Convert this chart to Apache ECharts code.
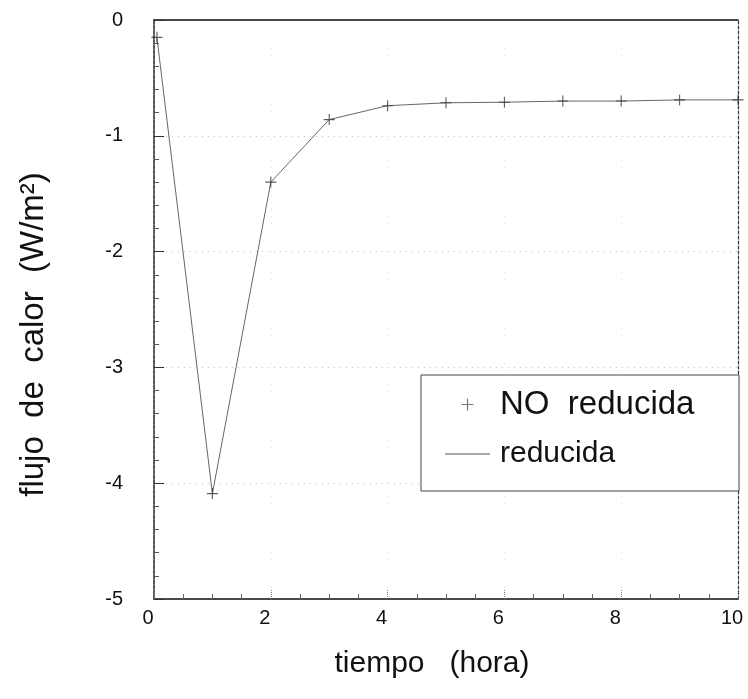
<!DOCTYPE html>
<html>
<head>
<meta charset="utf-8">
<script src="https://cdn.jsdelivr.net/npm/echarts@6/dist/echarts.min.js"></script>
<style>
  html, body { margin: 0; padding: 0; background: #fff; }
  #chart { width: 748px; height: 699px; }
</style>
</head>
<body>
<div id="chart"></div>
<script>
// Heat flux over time, full vs. reduced model
const horas = [0.05, 1, 2, 3, 4, 5, 6, 7, 8, 9, 10];
const noReducida = [-0.15, -4.09, -1.40, -0.86, -0.74, -0.715, -0.71, -0.70, -0.70, -0.69, -0.69];
const reducida = [-0.15, -4.09, -1.40, -0.86, -0.74, -0.715, -0.71, -0.70, -0.70, -0.69, -0.69];
const xTicks = [0, 2, 4, 6, 8, 10];
const yTicks = [0, -1, -2, -3, -4, -5];

const FONT = '"Liberation Sans", Arial, Helvetica, sans-serif';
const plusPath = 'path://M4.5,0h1v4.5h4.5v1h-4.5v4.5h-1v-4.5h-4.5v-1h4.5z';
const linePath = 'path://M0,0h45v1h-45z';

const chart = echarts.init(document.getElementById('chart'), null, { renderer: 'canvas' });

chart.setOption({
  backgroundColor: '#fff',
  animation: false,
  textStyle: { fontFamily: FONT, color: '#111' },
  grid: { left: 154, right: 10, top: 20, bottom: 100 },
  legend: {
    orient: 'vertical',
    left: 421,
    top: 375,
    padding: [13, 27, 22, 24],
    itemGap: 18,
    itemWidth: 45,
    itemHeight: 12,
    backgroundColor: '#fff',
    borderColor: '#444',
    borderWidth: 1,
    borderRadius: 0,
    data: [
      { name: 'NO reducida', icon: plusPath, itemStyle: { color: '#555' } },
      { name: 'reducida', icon: linePath, itemStyle: { color: '#555' } }
    ],
    formatter: function (name) {
      return name === 'NO reducida' ? '{a|NO  reducida}' : '{b|reducida}';
    },
    textStyle: {
      color: '#111',
      fontFamily: FONT,
      rich: {
        a: { fontSize: 33, lineHeight: 36, width: 212, padding: [0, 0, 0, 5], fontFamily: FONT, color: '#111' },
        b: { fontSize: 30, lineHeight: 36, width: 212, padding: [0, 0, 0, 5], fontFamily: FONT, color: '#111' }
      }
    }
  },
  xAxis: [
    {
      type: 'value',
      min: 0,
      max: 10,
      interval: 2,
      name: 'tiempo   (hora)',
      nameLocation: 'middle',
      nameGap: 50,
      nameTextStyle: { fontSize: 30, fontFamily: FONT, color: '#111', padding: [0, 28, 0, 0] },
      axisLine: { show: true, onZero: false, lineStyle: { color: '#111', width: 1.5 } },
      axisTick: { show: true, inside: true, length: 10, lineStyle: { color: '#777', type: 'dotted' } },
      minorTick: { show: true, splitNumber: 4, length: 5, lineStyle: { color: '#666' } },
      axisLabel: {
        fontSize: 20, color: '#111', margin: 9, fontFamily: FONT,
        padding: [0, 12, 0, 0],
        formatter: function (v) { return xTicks.indexOf(v) >= 0 ? String(v) : ''; }
      },
      splitLine: { show: true, lineStyle: { color: '#e4e4e4', type: [1, 6] } }
    },
    {
      type: 'value', min: 0, max: 10, position: 'top',
      axisLine: { show: true, onZero: false, lineStyle: { color: '#111', width: 1.5 } },
      axisTick: { show: false }, axisLabel: { show: false }, splitLine: { show: false }
    }
  ],
  yAxis: [
    {
      type: 'value',
      min: -5,
      max: 0,
      interval: 1,
      name: 'flujo  de  calor  (W/m²)',
      nameLocation: 'middle',
      nameGap: 104,
      nameRotate: 90,
      nameTextStyle: { fontSize: 33, fontFamily: FONT, color: '#111', padding: [0, 50, 0, 0] },
      axisLine: { show: true, onZero: false, lineStyle: { color: '#222', width: 1.5, type: [4, 1] } },
      axisTick: { show: true, inside: true, length: 10, lineStyle: { color: '#333' } },
      minorTick: { show: true, splitNumber: 5, length: 5, lineStyle: { color: '#555' } },
      axisLabel: {
        fontSize: 20, color: '#111', margin: 31, fontFamily: FONT,
        formatter: function (v) { return yTicks.indexOf(v) >= 0 ? String(v) : ''; }
      },
      splitLine: { show: true, lineStyle: { color: '#c4c4c4', type: [1, 5] } }
    },
    {
      type: 'value', min: -5, max: 0, position: 'right',
      axisLine: { show: true, onZero: false, lineStyle: { color: '#333', width: 1.2, type: [3, 2] } },
      axisTick: { show: false }, axisLabel: { show: false }, splitLine: { show: false }
    }
  ],
  series: [
    {
      name: 'reducida',
      type: 'line',
      data: horas.map((h, i) => [h, reducida[i]]),
      symbol: 'none',
      lineStyle: { color: '#666', width: 1 },
      itemStyle: { color: '#666' },
      z: 2
    },
    {
      name: 'NO reducida',
      type: 'scatter',
      data: horas.map((h, i) => [h, noReducida[i]]),
      symbol: plusPath,
      symbolSize: 11,
      itemStyle: { color: '#333' },
      z: 3
    }
  ]
});
</script>
</body>
</html>
